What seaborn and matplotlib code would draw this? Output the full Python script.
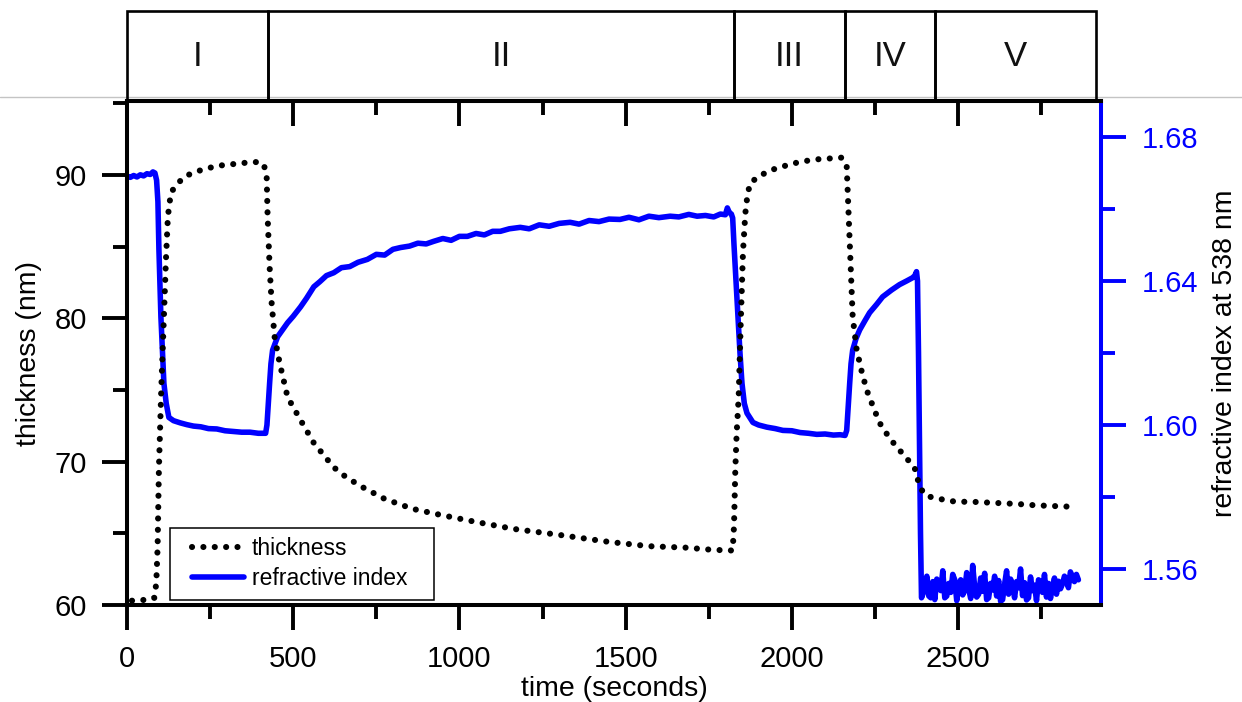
import matplotlib
matplotlib.use("Agg")
import matplotlib.pyplot as plt
from matplotlib.lines import Line2D
from matplotlib.patches import Rectangle
from matplotlib.ticker import MultipleLocator, FormatStrFormatter
import seaborn as sns

# ---- data -----------------------------------------------------------------
# film thickness (nm) versus time (s)
time_thk = [15, 30, 45, 60, 75, 82, 88, 92, 96, 103, 111, 117, 123, 132, 150,
            175, 205, 240, 280, 320, 360, 395, 411, 420, 423, 429, 435, 444,
            459, 483, 522, 562, 622, 660, 710, 775, 860, 940, 1048, 1165, 1297,
            1450, 1571, 1682, 1760, 1822, 1826, 1830, 1834, 1840, 1846, 1853,
            1860, 1866, 1874, 1900, 1940, 1975, 2015, 2050, 2084, 2120, 2150,
            2165, 2171, 2177, 2183, 2195, 2210, 2225, 2245, 2264, 2295, 2324,
            2350, 2369, 2384, 2399, 2415, 2435, 2465, 2495, 2540, 2585, 2630,
            2676, 2735, 2790, 2845]
thickness = [60.3, 60.3, 60.35, 60.35, 60.4, 60.5, 61.5, 64.0, 69.5, 75.0,
             80.1, 84.0, 87.1, 88.75, 89.35, 89.9, 90.2, 90.45, 90.65, 90.75,
             90.85, 90.9, 90.75, 90.0, 87.1, 83.6, 81.1, 78.7, 76.9, 74.5,
             72.9, 71.3, 69.6, 68.9, 68.2, 67.4, 66.7, 66.3, 65.8, 65.3, 64.9,
             64.4, 64.1, 64.0, 63.85, 63.8, 65.5, 69.5, 72.0, 74.5, 79.5, 84.6,
             87.3, 88.5, 89.4, 89.9, 90.35, 90.6, 90.85, 91.0, 91.1, 91.15,
             91.2, 90.6, 87.1, 83.6, 80.1, 77.8, 76.3, 75.0, 73.8, 72.7, 71.6,
             70.8, 70.1, 69.6, 68.3, 67.7, 67.55, 67.45, 67.3, 67.2, 67.2,
             67.15, 67.1, 67.05, 66.95, 66.9, 66.85]

# refractive index at 538 nm versus time (s), phases I-IV
time_ri = [3, 10, 20, 30, 40, 50, 60, 70, 78, 84, 89, 93, 96, 102, 111, 118,
           126, 140, 160, 180, 200, 222, 245, 270, 295, 321, 345, 370, 395,
           417, 421, 425, 429, 433, 438, 453, 483, 500, 522, 540, 562, 580,
           600, 622, 645, 670, 695, 723, 750, 775, 800, 823, 850, 875, 900,
           922, 950, 975, 1000, 1024, 1050, 1075, 1100, 1123, 1150, 1183, 1210,
           1240, 1270, 1300, 1333, 1360, 1390, 1420, 1450, 1483, 1510, 1540,
           1570, 1600, 1634, 1660, 1690, 1715, 1740, 1765, 1785, 1800, 1806,
           1812, 1818, 1822, 1826, 1832, 1838, 1844, 1850, 1857, 1865, 1883,
           1900, 1925, 1950, 1973, 2000, 2025, 2050, 2075, 2100, 2125, 2145,
           2160, 2165, 2170, 2174, 2178, 2183, 2193, 2204, 2220, 2234, 2255,
           2273, 2300, 2324, 2345, 2363, 2370, 2375, 2378, 2381, 2384, 2387,
           2390]
refr_index = [1.6690, 1.6688, 1.6693, 1.6689, 1.6695, 1.6692, 1.6698, 1.6696,
              1.6703, 1.6700, 1.6680, 1.6620, 1.6488, 1.6300, 1.6116, 1.6060,
              1.6021, 1.6012, 1.6006, 1.6001, 1.5997, 1.5995, 1.5990, 1.5989,
              1.5984, 1.5982, 1.5980, 1.5980, 1.5977, 1.5977, 1.6000, 1.6060,
              1.6116, 1.6170, 1.6208, 1.6245, 1.6284, 1.6302, 1.6328, 1.6352,
              1.6384, 1.6398, 1.6415, 1.6423, 1.6437, 1.6440, 1.6452, 1.6460,
              1.6474, 1.6472, 1.6488, 1.6493, 1.6497, 1.6505, 1.6503, 1.6510,
              1.6518, 1.6513, 1.6524, 1.6524, 1.6532, 1.6528, 1.6538, 1.6538,
              1.6545, 1.6549, 1.6545, 1.6556, 1.6552, 1.6560, 1.6563, 1.6558,
              1.6568, 1.6565, 1.6572, 1.6571, 1.6577, 1.6570, 1.6580, 1.6576,
              1.6580, 1.6578, 1.6585, 1.6580, 1.6582, 1.6578, 1.6586, 1.6584,
              1.6603, 1.6590, 1.6586, 1.6575, 1.6500, 1.6400, 1.6300, 1.6200,
              1.6116, 1.6060, 1.6033, 1.6007, 1.6000, 1.5994, 1.5990, 1.5985,
              1.5984, 1.5979, 1.5977, 1.5974, 1.5975, 1.5972, 1.5973, 1.5971,
              1.5985, 1.6060, 1.6116, 1.6170, 1.6208, 1.6240, 1.6264, 1.6290,
              1.6312, 1.6335, 1.6356, 1.6375, 1.6390, 1.6400, 1.6409, 1.6415,
              1.6426, 1.6400, 1.6200, 1.5950, 1.5700, 1.5520]

# refractive index in phase V (noisy read-out)
time_ri_v = [2394, 2400, 2406, 2412, 2418, 2424, 2430, 2436, 2442, 2448,
             2454, 2460, 2466, 2472, 2478, 2484, 2490, 2496, 2502, 2508,
             2514, 2520, 2526, 2532, 2538, 2544, 2550, 2556, 2562, 2568,
             2574, 2580, 2586, 2592, 2598, 2604, 2610, 2616, 2622, 2628,
             2634, 2640, 2646, 2652, 2658, 2664, 2670, 2676, 2682, 2688,
             2694, 2700, 2706, 2712, 2718, 2724, 2730, 2736, 2742, 2748,
             2754, 2760, 2766, 2772, 2778, 2784, 2790, 2796, 2802, 2808,
             2814, 2820, 2826, 2832, 2838, 2844, 2850, 2856, 2862]
refr_index_v = [1.5530, 1.5545, 1.5580, 1.5525, 1.5520, 1.5565, 1.5515,
                1.5572, 1.5560, 1.5540, 1.5595, 1.5520, 1.5525, 1.5560,
                1.5535, 1.5585, 1.5570, 1.5512, 1.5555, 1.5570, 1.5528,
                1.5540, 1.5590, 1.5545, 1.5518, 1.5610, 1.5550, 1.5522,
                1.5530, 1.5575, 1.5538, 1.5588, 1.5515, 1.5520, 1.5560,
                1.5542, 1.5580, 1.5525, 1.5568, 1.5510, 1.5515, 1.5558,
                1.5595, 1.5530, 1.5572, 1.5555, 1.5520, 1.5565, 1.5548,
                1.5600, 1.5526, 1.5562, 1.5514, 1.5520, 1.5578, 1.5540,
                1.5555, 1.5512, 1.5570, 1.5565, 1.5535, 1.5585, 1.5522,
                1.5560, 1.5518, 1.5550, 1.5575, 1.5530, 1.5566, 1.5545,
                1.5558, 1.5580, 1.5570, 1.5548, 1.5592, 1.5578, 1.5565,
                1.5585, 1.5570]

# process phases along the time axis
phase_labels = ["I", "II", "III", "IV", "V"]
phase_edges = [0, 425, 1825, 2160, 2430, 2915]

x_ticks = [0, 500, 1000, 1500, 2000, 2500]
thk_ticks = [60, 70, 80, 90]
ri_ticks = [1.56, 1.60, 1.64, 1.68]

BLUE = "#0000ff"

# ---- style ----------------------------------------------------------------
sns.set_theme(style="ticks")
plt.rcParams["font.family"] = ["Liberation Sans", "DejaVu Sans"]
plt.rcParams["axes.linewidth"] = 2.9
plt.rcParams["text.color"] = "black"
plt.rcParams["axes.labelcolor"] = "black"
plt.rcParams["xtick.color"] = "black"
plt.rcParams["ytick.color"] = "black"

W, H = 1242, 702
fig = plt.figure(figsize=(W / 100, H / 100), dpi=100)

# main axes (pixel box: left 127, right 1101, top 101, bottom 605)
L, R, T, B = 127, 1101, 101, 605
ax = fig.add_axes([L / W, 1 - B / H, (R - L) / W, (B - T) / H])
ax2 = ax.twinx()
ax.set_zorder(2)
ax.patch.set_visible(False)
ax2.set_zorder(1)

ri_time = time_ri + time_ri_v
ri_vals = refr_index + refr_index_v
sns.lineplot(x=ri_time, y=ri_vals, ax=ax2, color=BLUE, lw=4.0,
             estimator=None, sort=False, label="refractive index")
sns.lineplot(x=time_thk, y=thickness, ax=ax, color="black", lw=4.4,
             linestyle=(0, (0.01, 1.85)), dash_capstyle="round",
             estimator=None, sort=False, label="thickness")
for a in (ax, ax2):
    if a.get_legend() is not None:
        a.get_legend().remove()

# x axis
ax.set_xlim(0, 2930)
ax.set_xticks(x_ticks)
ax.xaxis.set_minor_locator(MultipleLocator(250))
ax.set_xlabel("time (seconds)", fontsize=20.5, labelpad=2)

# left axis
ax.set_ylim(60, 95.15)
ax.set_yticks(thk_ticks)
ax.yaxis.set_minor_locator(MultipleLocator(5))
ax.set_ylabel("thickness (nm)", fontsize=20.5, labelpad=9)

# right axis
ax2.set_ylim(1.55, 1.69)
ax2.set_yticks(ri_ticks)
ax2.yaxis.set_minor_locator(MultipleLocator(0.02))
ax2.yaxis.set_major_formatter(FormatStrFormatter("%.2f"))
ax2.set_ylabel("refractive index at 538 nm", fontsize=20.5, labelpad=10,
               rotation=90)

ax.tick_params(axis="both", which="major", length=18, width=2.8,
               labelsize=21, pad=11, color="black", labelcolor="black")
ax.tick_params(axis="both", which="minor", length=10, width=2.8,
               color="black")
ax.tick_params(axis="x", which="both", direction="out", top=False)
ax.tick_params(axis="y", which="both", direction="out", right=False)
ax2.tick_params(axis="y", which="major", length=18, width=2.8,
                labelsize=21, pad=11, color=BLUE, labelcolor=BLUE)
ax2.tick_params(axis="y", which="minor", length=10, width=2.8, color=BLUE)

for s in ("left", "bottom", "top"):
    ax.spines[s].set_color("black")
    ax.spines[s].set_linewidth(2.9)
ax.spines["right"].set_visible(False)
for s in ("left", "bottom", "top"):
    ax2.spines[s].set_visible(False)
ax2.spines["right"].set_color(BLUE)
ax2.spines["right"].set_linewidth(2.9)

# inward ticks on the top edge
top = ax.secondary_xaxis("top")
top.set_xticks(x_ticks)
top.xaxis.set_minor_locator(MultipleLocator(250))
top.tick_params(axis="x", which="major", direction="in", length=18,
                width=2.8, labeltop=False, color="black")
top.tick_params(axis="x", which="minor", direction="in", length=10,
                width=2.8, color="black")
top.spines["top"].set_linewidth(2.9)

# legend: framed box in the lower-left corner
ax.add_patch(Rectangle((0.0441, 0.0099), 0.2711, 0.1429,
                       transform=ax.transAxes, facecolor="white",
                       edgecolor="black", lw=1.1, zorder=4.9))
leg = ax.legend(handles=[ax.lines[0], ax2.lines[0]],
                labels=["thickness", "refractive index"],
                loc="center left", bbox_to_anchor=(0.0667, 0.0823),
                borderaxespad=0, borderpad=0, fontsize=16.5, frameon=False,
                handlelength=2.27, handletextpad=0.35, labelspacing=0.3)
leg.set_zorder(5)

# phase band above the plot
BT = 11
band = fig.add_axes([L / W, 1 - T / H, (R - L) / W, (T - BT) / H],
                    sharex=ax)
band.set_facecolor("white")
band.set_ylim(0, 1)
band.axis("off")
for lab, x0, x1 in zip(phase_labels, phase_edges[:-1], phase_edges[1:]):
    band.axvspan(x0, x1, ymin=0, ymax=1, facecolor="none",
                 edgecolor="black", lw=1.9, clip_on=False)
    band.text((x0 + x1) / 2, 0.5, lab, ha="center", va="center",
              fontsize=25, color="#111111")

# thin separator rule across the figure
fig.add_artist(Line2D([0, 1], [1 - 97 / H, 1 - 97 / H],
                      transform=fig.transFigure, color="#c4c4c4", lw=1.0,
                      zorder=-1))

fig.savefig("out.png", dpi=100, facecolor="white")
